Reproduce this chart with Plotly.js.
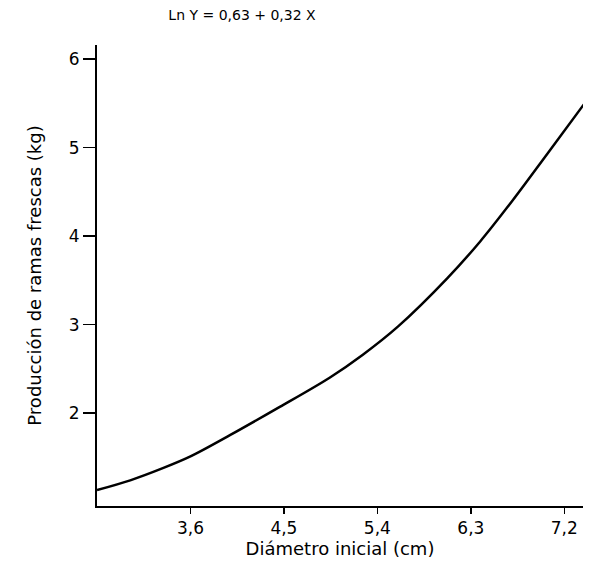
<!DOCTYPE html>
<html>
<head>
<meta charset="utf-8">
<script src="https://cdn.plot.ly/plotly-3.0.1.min.js"></script>
<style>html,body{margin:0;padding:0;background:#fff;}#chart{width:607px;height:583px;}</style>
</head>
<body>
<div id="chart"></div>
<script>
// Diámetro inicial (cm)
const diametro = [2.70, 3.02, 3.34, 3.60, 3.98, 4.46, 4.94, 5.26, 5.60, 6.07, 6.39, 6.70, 7.03, 7.42];
// Producción de ramas frescas (kg)
const produccion = [1.13, 1.24, 1.38, 1.51, 1.75, 2.07, 2.40, 2.66, 2.98, 3.52, 3.94, 4.40, 4.92, 5.54];
const xTicks = [3.6, 4.5, 5.4, 6.3, 7.2];
const xTickText = ["3,6", "4,5", "5,4", "6,3", "7,2"];
const yTicks = [2, 3, 4, 5, 6];
const yTickText = ["2", "3", "4", "5", "6"];

const font = "DejaVu Sans, Liberation Sans, sans-serif";

Plotly.newPlot("chart", [{
  x: diametro,
  y: produccion,
  type: "scatter",
  mode: "lines",
  line: {color: "#000", width: 2.5, shape: "spline", smoothing: 0.9},
  cliponaxis: false,
  hoverinfo: "skip"
}], {
  width: 607,
  height: 583,
  margin: {l: 97, r: 24, t: 45, b: 77},
  paper_bgcolor: "#fff",
  plot_bgcolor: "#fff",
  showlegend: false,
  font: {family: font, color: "#000"},
  title: {
    text: "Ln Y = 0,63 + 0,32 X",
    font: {family: font, size: 14, color: "#000"},
    x: 242 / 607, xanchor: "center", xref: "container",
    y: 1 - 15 / 583, yanchor: "middle", yref: "container"
  },
  xaxis: {
    range: [2.7, 7.38],
    tickvals: xTicks,
    ticktext: xTickText,
    ticks: "outside",
    ticklen: 6,
    tickwidth: 1.5,
    tickcolor: "#000",
    showline: true,
    linecolor: "#000",
    linewidth: 2,
    showgrid: false,
    zeroline: false,
    tickfont: {family: font, size: 17, color: "#000"},
    title: {text: "Diámetro inicial (cm)", font: {family: font, size: 18, color: "#000"}, standoff: 2}
  },
  yaxis: {
    range: [0.95, 6.16],
    tickvals: yTicks,
    ticktext: yTickText,
    ticks: "outside",
    ticklen: 12,
    tickwidth: 1.5,
    tickcolor: "#000",
    showline: true,
    linecolor: "#000",
    linewidth: 2,
    showgrid: false,
    zeroline: false,
    tickfont: {family: font, size: 17, color: "#000"},
    title: {text: "Producción de ramas frescas (kg)", font: {family: font, size: 18, color: "#000"}, standoff: 22}
  }
}, {displayModeBar: false, staticPlot: true});
</script>
</body>
</html>
